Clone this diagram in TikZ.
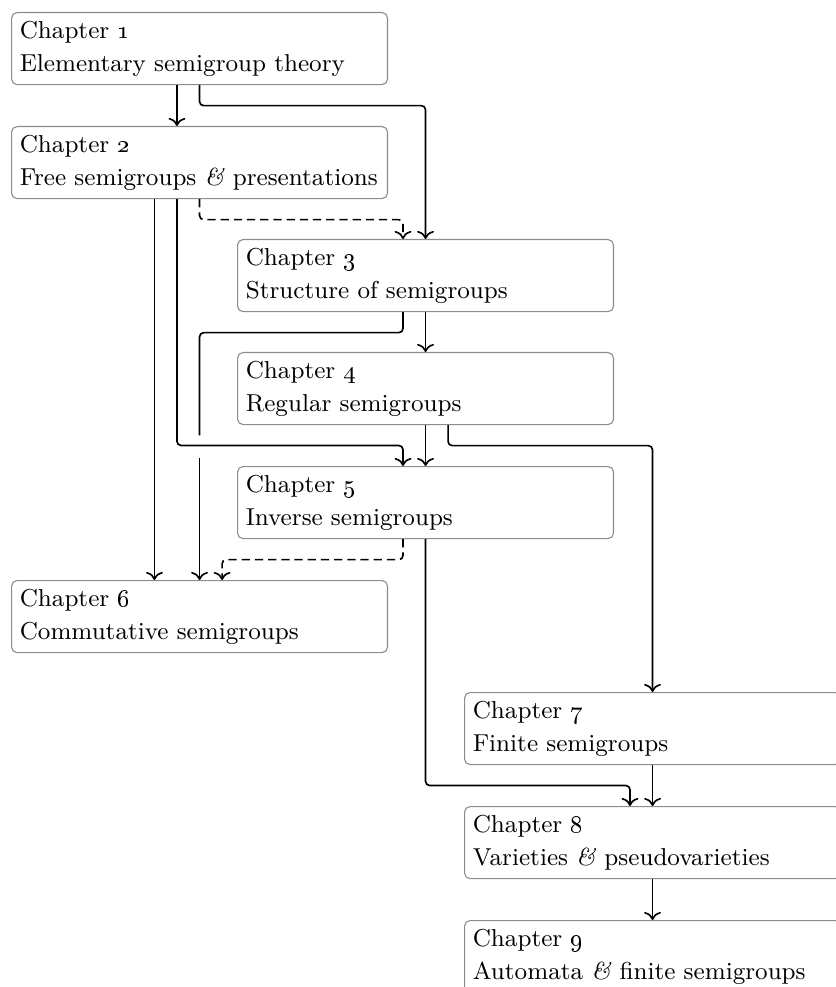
\documentclass[tikz,border=0pt]{standalone}
\usepackage{tikz}
\usetikzlibrary{arrows.meta, positioning, calc}

\begin{document}
\begin{tikzpicture}[
    x=0.3636pt, y=-0.3636pt,
    chapbox/.style={draw=black!45, rounded corners=2pt, anchor=north west, align=left,
        text width=130.7pt, minimum height=26.2pt, inner sep=3pt, font=\fontsize{8.9}{12}\selectfont},
    link/.style={->, semithick, rounded corners=1.5pt},
    maybe/.style={link, dash pattern=on 3pt off 1.8pt},
]
\useasboundingbox (0,0) rectangle (835,987);
\node[chapbox] (ch1) at (11,12) {Chapter \oldstylenums{1}\\Elementary semigroup theory};
\node[chapbox] (ch2) at (11,126) {Chapter \oldstylenums{2}\\Free semigroups \textit{\&} presentations};
\node[chapbox] (ch3) at (237,239) {Chapter \oldstylenums{3}\\Structure of semigroups};
\node[chapbox] (ch4) at (237,352) {Chapter \oldstylenums{4}\\Regular semigroups};
\node[chapbox] (ch5) at (237,466) {Chapter \oldstylenums{5}\\Inverse semigroups};
\node[chapbox] (ch6) at (11,580) {Chapter \oldstylenums{6}\\Commutative semigroups};
\node[chapbox] (ch7) at (464,692) {Chapter \oldstylenums{7}\\Finite semigroups};
\node[chapbox] (ch8) at (464,806) {Chapter \oldstylenums{8}\\Varieties \textit{\&} pseudovarieties};
\node[chapbox] (ch9) at (464,920) {Chapter \oldstylenums{9}\\Automata \textit{\&} finite semigroups};
% gap in the 3 -> 6 line where 2 -> 5 crosses it
\coordinate (hop) at ($(ch6.north |- ch5.north)+(0,-20.5)$);
\draw[link] ([xshift=-8.2pt]ch1.south) -- ([xshift=-8.2pt]ch2.north);
\draw[link] (ch1.south) -- ++(0,20.5) -| (ch3.north);
\draw[maybe] (ch2.south) -- ++(0,20.5) -| ([xshift=-8.2pt]ch3.north);
\draw[link] (ch3.south) -- (ch4.north);
\draw[link] ([xshift=-16.4pt]ch2.south) -- ([xshift=-16.4pt]ch6.north);
\draw[link] ([xshift=-8.2pt]ch2.south) |- ($([xshift=-8.2pt]ch5.north)+(0,-20.5)$) -- ([xshift=-8.2pt]ch5.north);
\draw[semithick, rounded corners=1.5pt] ([xshift=-8.2pt]ch3.south) -- ++(0,20.5) -| ($(hop)+(0,-10)$);
\draw[link] ($(hop)+(0,12)$) -- (ch6.north);
\draw[link] (ch4.south) -- (ch5.north);
\draw[link] ([xshift=8.2pt]ch4.south) -- ++(0,20.5) -| (ch7.north);
\draw[maybe] ([xshift=-8.2pt]ch5.south) -- ++(0,20.5) -| ([xshift=8.2pt]ch6.north);
\draw[link] (ch5.south) |- ($([xshift=-8.2pt]ch8.north)+(0,-20.5)$) -- ([xshift=-8.2pt]ch8.north);
\draw[link] (ch7.south) -- (ch8.north);
\draw[link] (ch8.south) -- (ch9.north);
\end{tikzpicture}
\end{document}
